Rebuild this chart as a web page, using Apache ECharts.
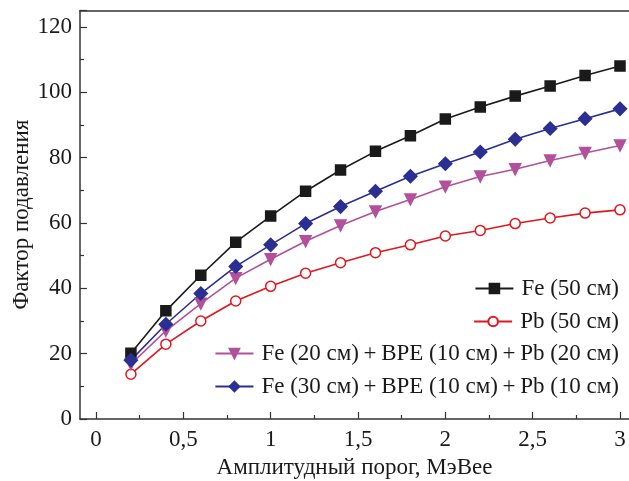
<!DOCTYPE html>
<html>
<head>
<meta charset="utf-8">
<script src="https://cdn.jsdelivr.net/npm/echarts@6/dist/echarts.min.js"></script>
<style>html,body{margin:0;padding:0;background:#fff}#c{width:629px;height:481px}</style>
</head>
<body>
<div id="c"></div>
<script>
const xValues = [0.2, 0.4, 0.6, 0.8, 1.0, 1.2, 1.4, 1.6, 1.8, 2.0, 2.2, 2.4, 2.6, 2.8, 3.0];
const fe50 = [20.1, 33.1, 44.0, 54.1, 62.1, 69.7, 76.2, 81.9, 86.7, 91.8, 95.5, 98.8, 101.9, 105.1, 108.0];
const pb50 = [13.7, 22.9, 30.0, 36.1, 40.6, 44.6, 47.8, 50.9, 53.3, 56.0, 57.7, 59.8, 61.5, 63.0, 64.0];
const fe20 = [16.8, 27.0, 35.3, 43.1, 48.9, 54.4, 59.2, 63.5, 67.2, 71.1, 74.2, 76.4, 79.1, 81.4, 83.7];
const fe30 = [18.0, 29.0, 38.4, 46.7, 53.3, 59.8, 65.0, 69.7, 74.3, 78.1, 81.7, 85.6, 88.9, 91.9, 94.9];
const seriesNames = ['Fe (50 см)', 'Pb (50 см)', 'Fe (20 см)\u2009+\u2009BPE (10 см)\u2009+\u2009Pb (20 см)', 'Fe (30 см)\u2009+\u2009BPE (10 см)\u2009+\u2009Pb (10 см)'];
const xMajorTicks = [0, 0.5, 1, 1.5, 2, 2.5, 3];
const xMinorTicks = [0.25, 0.75, 1.25, 1.75, 2.25, 2.75];
const xTitle = 'Амплитудный порог, МэВее';
const yTitle = 'Фактор подавления';

const FONT = '"Liberation Serif", "Times New Roman", serif';
const AX = '#333';
const TXT = '#1a1a1a';
const FS = 23;
const XMIN = -0.0916, XMAX = 3.0515;
const pairs = arr => xValues.map((x, i) => [x, arr[i]]);

const chart = echarts.init(document.getElementById('c'));
const legendTops = [272, 305, 337, 370];
const lineStyles = [
  {color: '#1a1a1a', symbol: 'rect', size: 10, rot: 0, fill: '#1a1a1a'},
  {color: '#e0171d', symbol: 'circle', size: 10, rot: 0, fill: '#ffffff'},
  {color: '#b2509b', symbol: 'triangle', size: 11, rot: 180, fill: '#b2509b'},
  {color: '#2b2f92', symbol: 'diamond', size: 13, rot: 0, fill: '#2b2f92'}
];
const dataSets = [fe50, pb50, fe20, fe30];

chart.setOption({
  animation: false,
  backgroundColor: '#fff',
  grid: {left: 80, right: 0, top: 10.5, bottom: 62, show: false, containLabel: false, outerBoundsMode: 'none'},
  legend: seriesNames.map((n, i) => ({
    data: [n], right: 5, top: legendTops[i], orient: 'vertical',
    itemWidth: 38, itemHeight: 12, itemGap: 0,
    textStyle: {fontFamily: FONT, fontSize: FS, color: TXT, padding: [0, 0, 0, 3]}
  })),
  xAxis: [{
    type: 'value', min: XMIN, max: XMAX,
    axisLine: {show: true, onZero: false, lineStyle: {color: AX, width: 1.5}},
    axisTick: {show: true, inside: true, length: 7, customValues: xMajorTicks, lineStyle: {color: AX, width: 1.2}},
    axisLabel: {customValues: xMajorTicks, fontFamily: FONT, fontSize: FS, color: TXT, margin: 9,
      formatter: v => String(v).replace('.', ',')},
    splitLine: {show: false},
    name: xTitle, nameLocation: 'middle', nameGap: 37,
    nameTextStyle: {fontFamily: FONT, fontSize: FS, color: TXT}
  }, {
    type: 'value', min: XMIN, max: XMAX, position: 'bottom', gridIndex: 0,
    axisLine: {show: false},
    axisTick: {show: true, inside: true, length: 4, customValues: xMinorTicks, lineStyle: {color: AX, width: 1.2}},
    axisLabel: {show: false},
    splitLine: {show: false}
  }, {
    type: 'value', min: XMIN, max: XMAX, position: 'top', gridIndex: 0,
    axisLine: {show: true, onZero: false, lineStyle: {color: AX, width: 1.5}},
    axisTick: {show: false},
    axisLabel: {show: false},
    splitLine: {show: false}
  }],
  yAxis: {
    type: 'value', min: 0, max: 125, interval: 20,
    axisLine: {show: true, onZero: false, lineStyle: {color: AX, width: 1.5}},
    axisTick: {show: true, inside: true, length: 7, lineStyle: {color: AX, width: 1.2}},
    minorTick: {show: true, splitNumber: 2, length: 4, lineStyle: {color: AX, width: 1.2}},
    axisLabel: {fontFamily: FONT, fontSize: FS, color: TXT, margin: 8, showMaxLabel: false},
    splitLine: {show: false},
    name: yTitle, nameLocation: 'middle', nameGap: 47, nameMoveOverlap: false,
    nameTextStyle: {fontFamily: FONT, fontSize: FS, color: TXT}
  },
  series: dataSets.map((d, i) => ({
    name: seriesNames[i], type: 'line', xAxisIndex: 0,
    data: pairs(d),
    symbol: lineStyles[i].symbol, symbolSize: lineStyles[i].size, symbolRotate: lineStyles[i].rot,
    showAllSymbol: true,
    lineStyle: {color: lineStyles[i].color, width: 1.6},
    itemStyle: {color: lineStyles[i].fill, borderColor: lineStyles[i].color, borderWidth: 1.5}
  }))
});
</script>
</body>
</html>
